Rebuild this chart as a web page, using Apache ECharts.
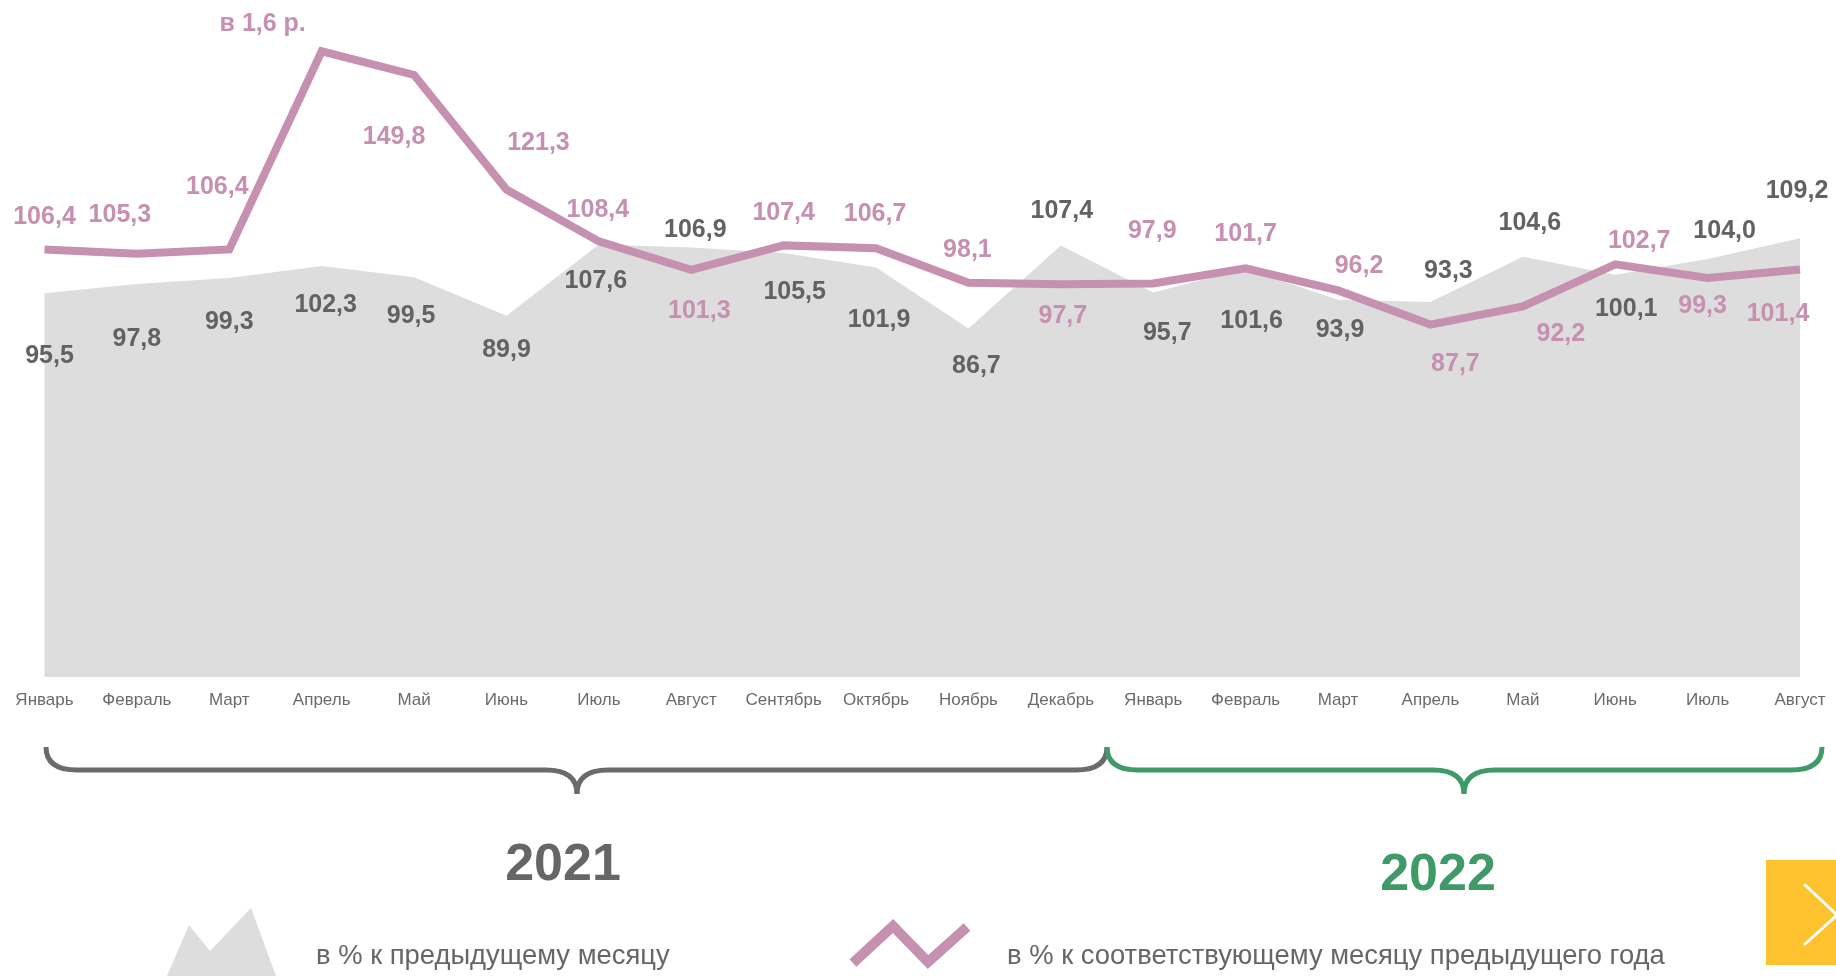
<!DOCTYPE html>
<html>
<head>
<meta charset="utf-8">
<script src="https://cdn.jsdelivr.net/npm/echarts@6/dist/echarts.min.js"></script>
<style>
html,body{margin:0;padding:0;background:#fff;}
#chart{width:1836px;height:976px;}
</style>
</head>
<body>
<div id="chart"></div>
<script>
// ---- data ----
const months = ['Январь','Февраль','Март','Апрель','Май','Июнь','Июль','Август','Сентябрь','Октябрь','Ноябрь','Декабрь',
                'Январь','Февраль','Март','Апрель','Май','Июнь','Июль','Август'];
const momValues = [95.5, 97.8, 99.3, 102.3, 99.5, 89.9, 107.6, 106.9, 105.5, 101.9, 86.7, 107.4,
                   95.7, 101.6, 93.9, 93.3, 104.6, 100.1, 104.0, 109.2];
const yoyValues = [106.4, 105.3, 106.4, 155.7, 149.8, 121.3, 108.4, 101.3, 107.4, 106.7, 98.1, 97.7,
                   97.9, 101.7, 96.2, 87.7, 92.2, 102.7, 99.3, 101.4];
const yearLabels = ['2021', '2022'];
const legendNames = ['в % к предыдущему месяцу', 'в % к соответствующему месяцу предыдущего года'];

// ---- label layout (offsets of label centre from the point, px) ----
const momLabelOffset = [[5,63],[0,55],[0,44],[4,39],[-3,39],[0,34],[-3,37],[4,-17],[11,39],[3,53],[8,38],[1,-34],
                        [14,41],[6,52],[2,30],[18,-31],[7,-34],[11,34],[17,-28],[-3,-47]];
const yoyLabelOffset = [[0,-32],[-17,-39],[-12,-62],[-59,-27],[-20,62],[32,-46],[-1,-31],[8,41],[0,-32],[-1,-34],[-1,-33],[2,32],
                        [-1,-52],[0,-34],[21,-24],[25,40],[38,28],[24,-23],[-5,28],[-22,45]];

const GRAY_LBL = '#626262';
const PINK = '#c690b1';
const GREEN = '#3f9a68';
const FONT = '"Liberation Sans", Arial, sans-serif';

function fmt(v) {
  if (v > 150) return 'в ' + (v / 100).toFixed(1).replace('.', ',') + ' р.';
  return v.toFixed(1).replace('.', ',');
}

// curly brace made of lines and quadratic curves
function brace(x0, x1, xm, yTop, yMid, yTip, r, color) {
  const st = {stroke: color, lineWidth: 5, fill: null};
  const mk = (shape, type) => ({type: type, silent: true, shape: shape, style: st});
  return [
    mk({x1: x0, y1: yTop, x2: x0 + r, y2: yMid, cpx1: x0, cpy1: yMid}, 'bezierCurve'),
    mk({x1: x0 + r, y1: yMid, x2: xm - r, y2: yMid}, 'line'),
    mk({x1: xm - r, y1: yMid, x2: xm, y2: yTip, cpx1: xm, cpy1: yMid}, 'bezierCurve'),
    mk({x1: xm, y1: yTip, x2: xm + r, y2: yMid, cpx1: xm, cpy1: yMid}, 'bezierCurve'),
    mk({x1: xm + r, y1: yMid, x2: x1 - r, y2: yMid}, 'line'),
    mk({x1: x1 - r, y1: yMid, x2: x1, y2: yTop, cpx1: x1, cpy1: yMid}, 'bezierCurve')
  ];
}

const chart = echarts.init(document.getElementById('chart'), null, {renderer: 'canvas'});

const option = {
  animation: false,
  backgroundColor: '#ffffff',
  textStyle: {fontFamily: FONT},
  grid: {left: 44.5, right: 36, top: 34, bottom: 299, containLabel: false},
  xAxis: {
    type: 'category',
    data: months,
    boundaryGap: false,
    axisLine: {show: false},
    axisTick: {show: false},
    splitLine: {show: false},
    axisLabel: {interval: 0, margin: 15, fontSize: 17, color: '#6a6a6a', fontFamily: FONT}
  },
  yAxis: {
    type: 'value',
    min: 0, max: 160,
    show: false,
    splitLine: {show: false}
  },
  series: [
    {
      name: legendNames[0],
      type: 'line',
      z: 1,
      data: momValues.map((v, i) => ({value: v, label: {offset: momLabelOffset[i]}})),
      symbol: 'circle',
      symbolSize: 1,
      itemStyle: {color: 'rgba(0,0,0,0)'},
      lineStyle: {width: 0, color: 'rgba(0,0,0,0)'},
      areaStyle: {color: '#dddddd', opacity: 1},
      label: {
        show: true, position: 'inside',
        formatter: p => fmt(p.value),
        fontSize: 25, fontWeight: 'bold', color: GRAY_LBL, fontFamily: FONT
      }
    },
    {
      name: legendNames[1],
      type: 'line',
      z: 2,
      data: yoyValues.map((v, i) => ({value: v, label: {offset: yoyLabelOffset[i]}})),
      symbol: 'circle',
      symbolSize: 1,
      itemStyle: {color: 'rgba(0,0,0,0)'},
      lineStyle: {width: 8, color: PINK, join: 'miter'},
      label: {
        show: true, position: 'inside',
        formatter: p => fmt(p.value),
        fontSize: 25, fontWeight: 'bold', color: PINK, fontFamily: FONT
      }
    }
  ],
  graphic: [].concat(
    brace(46, 1107, 577, 747, 770, 794, 31, '#6b6b6b'),
    brace(1107, 1822, 1464, 747, 770, 794, 31, GREEN),
    [
    {type: 'text', silent: true, x: 563, y: 866,
     style: {text: yearLabels[0], fontSize: 52, fontWeight: 'bold', fill: '#666666', align: 'center', verticalAlign: 'middle', fontFamily: FONT}},
    {type: 'text', silent: true, x: 1438, y: 876,
     style: {text: yearLabels[1], fontSize: 52, fontWeight: 'bold', fill: GREEN, align: 'center', verticalAlign: 'middle', fontFamily: FONT}},
    {type: 'polygon', silent: true,
     shape: {points: [[167,976],[189,925],[210,951],[251,908],[276,976]]},
     style: {fill: '#dddddd'}},
    {type: 'text', silent: true, x: 316, y: 956,
     style: {text: legendNames[0], fontSize: 27.4, fill: '#666666', align: 'left', verticalAlign: 'middle', fontFamily: FONT}},
    {type: 'polyline', silent: true,
     shape: {points: [[853,963],[893,926],[928,962],[967,927]]},
     style: {stroke: PINK, lineWidth: 10, fill: null, lineJoin: 'miter', lineCap: 'butt'}},
    {type: 'text', silent: true, x: 1007, y: 956,
     style: {text: legendNames[1], fontSize: 27.4, fill: '#666666', align: 'left', verticalAlign: 'middle', fontFamily: FONT}},
    {type: 'rect', silent: true, shape: {x: 1766, y: 860, width: 70, height: 105}, style: {fill: '#fdc22e'}},
    {type: 'polyline', silent: true,
     shape: {points: [[1805,885],[1837,915],[1805,944]]},
     style: {stroke: '#ffffff', lineWidth: 3, fill: null, lineCap: 'round'}}
    ]
  )
};

chart.setOption(option);
</script>
</body>
</html>
